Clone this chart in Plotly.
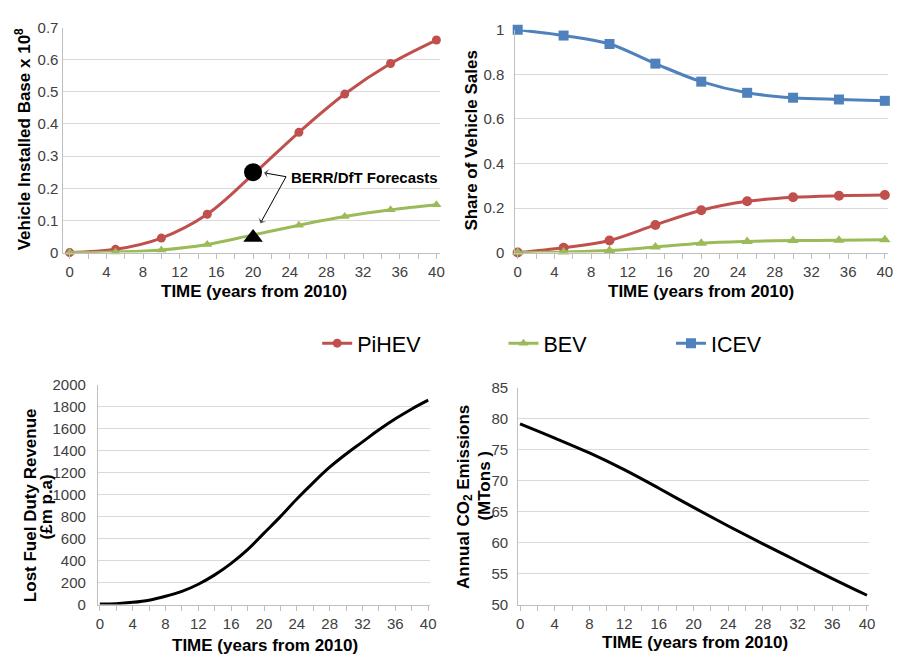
import plotly.graph_objects as go

W, H = 901, 660

# ---- data -------------------------------------------------------------
years5 = [0, 5, 10, 15, 20, 25, 30, 35, 40]

# Vehicle installed base (x 10^8)
base_pihev = [0.0, 0.010, 0.045, 0.119, 0.243, 0.374, 0.493, 0.588, 0.661]
base_bev = [0.0, 0.002, 0.008, 0.025, 0.055, 0.085, 0.112, 0.133, 0.149]
forecast_year = [20]
forecast_pihev = [0.25]
forecast_bev = [0.047]

# Share of vehicle sales
share_icev = [1.0, 0.974, 0.936, 0.848, 0.767, 0.717, 0.695, 0.687, 0.681]
share_pihev = [0.0, 0.022, 0.054, 0.124, 0.190, 0.230, 0.248, 0.255, 0.258]
share_bev = [0.0, 0.003, 0.009, 0.025, 0.042, 0.050, 0.054, 0.055, 0.057]

# Lost fuel duty revenue (GBP m p.a.)
years2 = list(range(0, 41, 2))
lost_revenue = [5, 8, 20, 40, 75, 120, 185, 270, 375, 500, 650, 800, 960,
                1110, 1250, 1370, 1480, 1590, 1690, 1780, 1860]

# Annual CO2 emissions (MTons)
years4 = list(range(0, 41, 4))
co2 = [79.2, 76.9, 74.5, 71.8, 68.8, 65.7, 62.7, 59.8, 57.0, 54.2, 51.5]

# callout arrows: tail near the label, head at the forecast markers
arrow_tail = (23.6, 0.236)
arrow_heads = [(21.2, 0.248), (20.8, 0.091)]

# ---- styling ------------------------------------------------------------
RED = "#C0504D"
GREEN = "#9BBB59"
BLUE = "#4F81BD"
FONT = "Liberation Sans, Arial, sans-serif"
TICK_COLOR = "#404040"
GRID = "#D9D9D9"
AXLINE = "#BFBFBF"


def px_x(p):
    return p / W


def px_y(p):
    return 1 - p / H


fig = go.Figure()

# panel placement: x-domain px, y-domain px (top, bottom), x range, y range, y dtick, y label gap
panels = [
    ((62, 442), (19, 250), [-0.68, 40.4], [0, 0.7], 0.1, 1),
    ((518, 894), (21.3, 250), [-0.25, 40.35], [0, 1.0], 0.2, 7),
    ((96.7, 432), (385.7, 611.3), [-0.24, 40.24], [0, 2000], 200, 8),
    ((520.7, 875), (389, 611.3), [-0.23, 40.26], [50, 85], 5, 6),
]

layout_axes = {}
for i, (xd, yd, xr, yr, ydt, gap) in enumerate(panels, start=1):
    sx = "" if i == 1 else str(i)
    layout_axes["xaxis" + sx] = dict(
        domain=[px_x(xd[0]), px_x(xd[1])],
        anchor="y" + sx,
        range=xr,
        tick0=0,
        dtick=4,
        ticks="outside",
        ticklen=5,
        tickcolor=AXLINE,
        minor=dict(dtick=2, tick0=0, ticks="outside", ticklen=5, tickcolor=AXLINE, showgrid=False),
        showline=True,
        linecolor=AXLINE,
        linewidth=1,
        showgrid=False,
        zeroline=False,
        tickfont=dict(family=FONT, size=15, color=TICK_COLOR),
        fixedrange=True,
    )
    layout_axes["yaxis" + sx] = dict(
        domain=[px_y(yd[1]), px_y(yd[0])],
        anchor="x" + sx,
        range=yr,
        dtick=ydt,
        tick0=yr[0],
        ticks="",
        ticklabelstandoff=gap,
        showline=True,
        linecolor=AXLINE,
        linewidth=1,
        showgrid=True,
        gridcolor=GRID,
        gridwidth=1,
        zeroline=False,
        tickfont=dict(family=FONT, size=15, color=TICK_COLOR),
        fixedrange=True,
    )


def series(x, y, color, symbol, size, xa, ya, name, legend=None, show=False, marker=True):
    return go.Scatter(
        x=x, y=y,
        mode="lines+markers" if marker else "lines",
        line=dict(color=color, width=3, shape="spline"),
        marker=dict(color=color, symbol=symbol, size=size),
        xaxis=xa, yaxis=ya,
        name=name,
        showlegend=show,
        legend=legend,
        cliponaxis=False,
        hoverinfo="skip",
    )


# top-left: installed base
fig.add_trace(series(years5, base_pihev, RED, "circle", 9, "x", "y", "PiHEV", "legend", True))
fig.add_trace(series(years5, base_bev, GREEN, "triangle-up", 9, "x", "y", "BEV", "legend2", True))
fig.add_trace(go.Scatter(x=forecast_year, y=forecast_pihev, mode="markers",
                         marker=dict(color="black", symbol="circle", size=18),
                         xaxis="x", yaxis="y", showlegend=False, cliponaxis=False, hoverinfo="skip"))
fig.add_trace(go.Scatter(x=forecast_year, y=forecast_bev, mode="markers",
                         marker=dict(color="black", symbol="triangle-up", size=17),
                         xaxis="x", yaxis="y", showlegend=False, cliponaxis=False, hoverinfo="skip"))
for hx, hy in arrow_heads:
    fig.add_trace(go.Scatter(
        x=[arrow_tail[0], hx], y=[arrow_tail[1], hy], mode="lines+markers",
        line=dict(color="black", width=1),
        marker=dict(color="black", symbol=["circle", "arrow-wide"], size=[0, 7],
                    angleref="previous", line=dict(width=0)),
        xaxis="x", yaxis="y", showlegend=False, cliponaxis=False, hoverinfo="skip"))

# top-right: share of sales
fig.add_trace(series(years5, share_icev, BLUE, "square", 10, "x2", "y2", "ICEV", "legend3", True))
fig.add_trace(series(years5, share_pihev, RED, "circle", 10, "x2", "y2", "PiHEV"))
fig.add_trace(series(years5, share_bev, GREEN, "triangle-up", 10, "x2", "y2", "BEV"))

# bottom-left: lost fuel duty
fig.add_trace(series(years2, lost_revenue, "black", "circle", 1, "x3", "y3", "Lost revenue", marker=False))

# bottom-right: CO2
fig.add_trace(series(years4, co2, "black", "circle", 1, "x4", "y4", "CO2", marker=False))

title_font = dict(family=FONT, size=17, color="black")
annotations = []


def title(text, cx, cy, angle=0):
    annotations.append(dict(
        text="<b>" + text + "</b>", x=px_x(cx), y=px_y(cy), xref="paper", yref="paper",
        xanchor="center", yanchor="middle", showarrow=False, textangle=angle,
        font=title_font,
    ))


title("TIME (years from 2010)", 254, 290)
title("TIME (years from 2010)", 705.7, 290)
title("TIME (years from 2010)", 265, 653)
title("TIME (years from 2010)", 699, 650)
title("Vehicle Installed Base x 10<sup>8</sup>", 21, 134, -90)
title("Share of Vehicle Sales", 473.3, 135, -90)
title("Lost Fuel Duty Revenue", 29.5, 509, -90)
title("(£m p.a)", 45, 511, -90)
title("Annual CO<sub>2</sub> Emissions", 467, 501, -90)
title("(MTons )", 486.5, 489, -90)

# forecast callout label
annotations.append(dict(
    text="<b>BERR/DfT Forecasts</b>", x=23.9, y=0.234, xref="x", yref="y",
    xanchor="left", yanchor="middle", showarrow=False,
    font=dict(family=FONT, size=15, color="black"),
))

legend_common = dict(
    orientation="h", yanchor="middle", xanchor="left",
    font=dict(family=FONT, size=21.5, color="black"),
    bgcolor="rgba(0,0,0,0)", itemwidth=30,
)

fig.update_layout(
    width=W, height=H,
    margin=dict(l=0, r=0, t=0, b=0),
    paper_bgcolor="white",
    plot_bgcolor="white",
    annotations=annotations,
    legend=dict(x=px_x(318), y=px_y(343), **legend_common),
    legend2=dict(x=px_x(506), y=px_y(343), **legend_common),
    legend3=dict(x=px_x(675), y=px_y(343), **legend_common),
    **layout_axes,
)

fig.write_html("out.html")
